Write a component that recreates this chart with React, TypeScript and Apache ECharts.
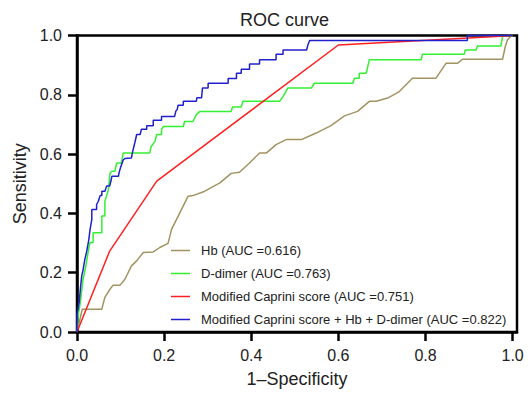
import React, { useEffect, useRef } from "react";
import * as echarts from "echarts";

const seriesNames = [
  "Hb (AUC =0.616)",
  "D-dimer (AUC =0.763)",
  "Modified Caprini score (AUC =0.751)",
  "Modified Caprini score + Hb + D-dimer (AUC =0.822)",
];
const seriesColors = ["#a39262", "#33f033", "#ff2020", "#2020cc"];
const tickValues = [0, 0.2, 0.4, 0.6, 0.8, 1.0];

const hbData = [
  [0, 0], [0.003, 0.02], [0.007, 0.044], [0.012, 0.077], [0.057, 0.077], [0.064, 0.117],
  [0.076, 0.145], [0.083, 0.158], [0.099, 0.158], [0.11, 0.178], [0.125, 0.223], [0.137, 0.24],
  [0.152, 0.268], [0.175, 0.27], [0.19, 0.285], [0.209, 0.299], [0.217, 0.346], [0.236, 0.402],
  [0.255, 0.458], [0.266, 0.46], [0.289, 0.472], [0.328, 0.503], [0.354, 0.535], [0.373, 0.539],
  [0.396, 0.57], [0.419, 0.604], [0.435, 0.604], [0.457, 0.632], [0.48, 0.649], [0.515, 0.649],
  [0.549, 0.671], [0.583, 0.696], [0.614, 0.729], [0.644, 0.744], [0.671, 0.778], [0.687, 0.778],
  [0.713, 0.789], [0.74, 0.811], [0.77, 0.856], [0.824, 0.856], [0.847, 0.906], [0.873, 0.906],
  [0.885, 0.92], [0.977, 0.92], [0.983, 0.962], [0.988, 0.985], [0.996, 0.998], [1, 1],
];

const dDimerData = [
  [0, 0], [0.003, 0.06], [0.007, 0.094], [0.01, 0.13], [0.014, 0.178], [0.02, 0.22],
  [0.026, 0.273], [0.03, 0.302], [0.037, 0.302], [0.037, 0.335], [0.057, 0.335], [0.057, 0.391],
  [0.064, 0.391], [0.064, 0.441], [0.068, 0.46], [0.072, 0.48], [0.074, 0.51], [0.076, 0.537],
  [0.08, 0.542], [0.087, 0.542], [0.091, 0.57], [0.102, 0.57], [0.106, 0.604], [0.167, 0.604],
  [0.17, 0.625], [0.179, 0.643], [0.183, 0.666], [0.194, 0.666], [0.194, 0.682], [0.198, 0.693],
  [0.244, 0.693], [0.247, 0.71], [0.266, 0.71], [0.274, 0.733], [0.282, 0.744], [0.354, 0.744],
  [0.357, 0.759], [0.377, 0.759], [0.381, 0.778], [0.465, 0.778], [0.473, 0.794], [0.484, 0.823],
  [0.538, 0.823], [0.545, 0.839], [0.633, 0.839], [0.637, 0.856], [0.648, 0.856], [0.648, 0.873],
  [0.664, 0.873], [0.671, 0.918], [0.79, 0.918], [0.793, 0.937], [0.889, 0.937], [0.891, 0.951],
  [0.916, 0.951], [0.919, 0.965], [0.973, 0.965], [0.977, 0.997], [0.99, 1], [1, 1],
];

const capriniData = [
  [0, 0], [0.075, 0.273], [0.183, 0.509], [0.6, 0.968], [1, 1],
];

const combinedData = [
  [0, 0], [0, 0.06], [0.005, 0.1], [0.008, 0.15], [0.011, 0.19], [0.014, 0.21], [0.018, 0.245],
  [0.022, 0.27], [0.027, 0.31], [0.03, 0.346], [0.034, 0.38], [0.034, 0.413], [0.045, 0.413],
  [0.045, 0.43], [0.049, 0.441], [0.053, 0.46], [0.057, 0.46], [0.057, 0.475], [0.064, 0.475],
  [0.068, 0.492], [0.075, 0.492], [0.078, 0.51], [0.08, 0.525], [0.095, 0.525], [0.097, 0.54],
  [0.1, 0.555], [0.106, 0.58], [0.11, 0.585], [0.125, 0.587], [0.128, 0.61], [0.133, 0.64],
  [0.137, 0.666], [0.145, 0.666], [0.148, 0.684], [0.16, 0.684], [0.16, 0.696], [0.175, 0.696],
  [0.175, 0.714], [0.194, 0.714], [0.194, 0.727], [0.224, 0.727], [0.227, 0.745], [0.23, 0.75],
  [0.232, 0.765], [0.244, 0.765], [0.244, 0.778], [0.274, 0.778], [0.275, 0.79], [0.286, 0.79],
  [0.288, 0.823], [0.301, 0.823], [0.301, 0.839], [0.347, 0.839], [0.347, 0.855], [0.366, 0.855],
  [0.366, 0.873], [0.377, 0.873], [0.377, 0.886], [0.396, 0.886], [0.396, 0.904], [0.419, 0.904],
  [0.419, 0.918], [0.457, 0.918], [0.457, 0.937], [0.473, 0.937], [0.473, 0.951], [0.527, 0.951],
  [0.53, 0.968], [0.534, 0.983], [0.896, 0.983], [0.896, 1], [1, 1],
];

const allData = [hbData, dDimerData, capriniData, combinedData];

const FONT = "'Liberation Sans', Arial, Helvetica, sans-serif";
const TEXT = "#222";

export default function App() {
  const ref = useRef<HTMLDivElement>(null);
  useEffect(() => {
    if (!ref.current) return;
    const chart = echarts.init(ref.current, null, { renderer: "svg" });
    chart.setOption({
      animation: false,
      backgroundColor: "#fff",
      title: {
        text: "ROC curve",
        left: 240,
        top: 11,
        padding: 0,
        textStyle: { fontFamily: FONT, fontSize: 18, fontWeight: "normal", color: TEXT },
      },
      grid: {
        left: 77,
        right: 11,
        top: 35.5,
        bottom: 60,
        show: true,
        borderColor: "#000",
        borderWidth: 2.5,
        backgroundColor: "transparent",
      },
      legend: {
        orient: "vertical",
        left: 171,
        top: 244,
        padding: 0,
        itemWidth: 19,
        itemHeight: 1.5,
        itemGap: 10,
        icon: "rect",
        data: seriesNames,
        textStyle: { fontFamily: FONT, fontSize: 13, color: TEXT, padding: [0, 0, 0, 6] },
      },
      xAxis: {
        type: "value",
        min: 0,
        max: 1.01,
        interval: 0.2,
        name: "1\u2013Specificity",
        nameLocation: "middle",
        nameGap: 38,
        nameTextStyle: { fontFamily: FONT, fontSize: 18, color: TEXT },
        axisLine: { show: true, lineStyle: { color: "#000", width: 2.5 } },
        axisTick: { show: true, length: 9, lineStyle: { color: "#000", width: 2.5 }, customValues: tickValues },
        axisLabel: {
          fontFamily: FONT, fontSize: 16, color: TEXT, margin: 15,
          customValues: tickValues,
          formatter: (v: number) => v.toFixed(1),
        },
        splitLine: { show: false },
      },
      yAxis: {
        type: "value",
        min: 0,
        max: 1,
        interval: 0.2,
        name: "Sensitivity",
        nameLocation: "middle",
        nameGap: 47,
        nameTextStyle: { fontFamily: FONT, fontSize: 18, color: TEXT },
        axisLine: { show: true, lineStyle: { color: "#000", width: 2.5 } },
        axisTick: { show: true, length: 9, lineStyle: { color: "#000", width: 2.5 } },
        axisLabel: {
          fontFamily: FONT, fontSize: 16, color: TEXT, margin: 15,
          formatter: (v: number) => v.toFixed(1),
        },
        splitLine: { show: false },
      },
      series: seriesNames.map((name, i) => ({
        name,
        type: "line",
        data: allData[i],
        showSymbol: false,
        symbol: "none",
        clip: false,
        color: seriesColors[i],
        lineStyle: { color: seriesColors[i], width: 1.5 },
        z: 2 + i,
      })),
    });
    return () => chart.dispose();
  }, []);
  return <div ref={ref} style={{ width: 528, height: 393, position: "absolute", left: 0, top: 0 }} />;
}
